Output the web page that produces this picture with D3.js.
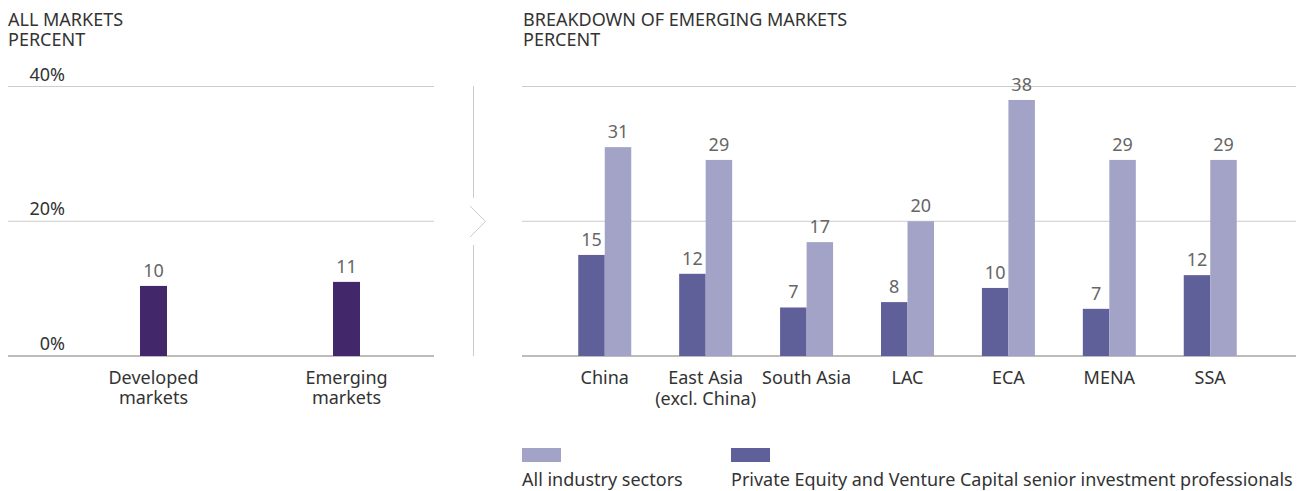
<!DOCTYPE html>
<html><head><meta charset="utf-8">
<script src="https://cdn.jsdelivr.net/npm/d3@7"></script>
<style>
html,body{margin:0;padding:0;background:#fff;}
svg text{font-family:"Noto Sans","Open Sans",sans-serif;}
</style></head>
<body><svg id="c" width="1306" height="491"></svg>
<script>
// ---- data ----
const leftCategories = [["Developed","markets"],["Emerging","markets"]];
const leftValues = [10.4, 11.0];
const leftLabels = ["10","11"];
const rightCategories = [["China"],["East Asia","(excl. China)"],["South Asia"],["LAC"],["ECA"],["MENA"],["SSA"]];
const peValues = [15, 12.2, 7.2, 8, 10.1, 7, 12];
const peLabels = ["15","12","7","8","10","7","12"];
const allValues = [31, 29.1, 16.9, 20, 38, 29.1, 29.1];
const allLabels = ["31","29","17","20","38","29","29"];
const yTicks = [0, 20, 40];
const yTickLabels = ["0%","20%","40%"];
const seriesNames = ["All industry sectors","Private Equity and Venture Capital senior investment professionals"];

const svg = d3.select("#c");
const FS = 18;
const y = d3.scaleLinear().domain([0, 40]).range([356, 86.5]);
const gridColor = "#cccccc", baseColor = "#a6a6a6";
const textDark = "#333333", textGray = "#666666";
const cLeft = "#42276a", cPE = "#5f5f99", cAll = "#a3a3c8";

// multi-line text as one <text> with tspans
function multiText(g, x, y0, lines, lh, anchor){
  const t = g.append("text").attr("x",x).attr("y",y0).attr("font-size",FS)
    .attr("fill",textDark).attr("text-anchor",anchor||"start");
  lines.forEach((s,i)=>t.append("tspan").attr("x",x).attr("dy",i===0?0:lh).text(s));
  return t;
}
multiText(svg, 8, 26, ["ALL MARKETS","PERCENT"], 19.8);
multiText(svg, 523, 26, ["BREAKDOWN OF EMERGING MARKETS","PERCENT"], 19.8);

// ---- left panel ----
const gl = svg.append("g");
yTicks.forEach((t,i)=>{
  gl.append("line").attr("x1",8).attr("x2",434).attr("y1",y(t)).attr("y2",y(t))
    .attr("stroke", t===0?baseColor:gridColor).attr("stroke-width",t===0?1.5:1);
  gl.append("text").attr("x",65).attr("y",y(t)-6).attr("text-anchor","end")
    .attr("font-size",FS).attr("fill",textDark).text(yTickLabels[i]);
});
const xl = d3.scaleBand().domain(d3.range(leftValues.length)).range([57,443]);
const bwL = 27;
gl.selectAll("rect.b").data(leftValues).join("rect")
  .attr("x",(d,i)=>xl(i)+xl.bandwidth()/2-bwL/2).attr("width",bwL)
  .attr("y",d=>y(d)).attr("height",d=>y(0)-y(d)).attr("fill",cLeft);
gl.selectAll("text.v").data(leftValues).join("text")
  .attr("x",(d,i)=>xl(i)+xl.bandwidth()/2).attr("y",d=>y(d)-9)
  .attr("text-anchor","middle").attr("font-size",FS).attr("fill",textGray)
  .text((d,i)=>leftLabels[i]);
leftCategories.forEach((lines,i)=>{
  multiText(gl, xl(i)+xl.bandwidth()/2, 383.5, lines, 20.7, "middle");
});

// ---- divider ----
const dv = svg.append("g").attr("stroke","#cccccc").attr("fill","none").attr("stroke-width",1);
dv.append("line").attr("x1",473.5).attr("x2",473.5).attr("y1",86).attr("y2",198);
dv.append("path").attr("d","M470,206 L485.5,221.5 L470,237");
dv.append("line").attr("x1",473.5).attr("x2",473.5).attr("y1",245).attr("y2",356);

// ---- right panel ----
const gr = svg.append("g");
yTicks.forEach((t)=>{
  gr.append("line").attr("x1",522).attr("x2",1296).attr("y1",y(t)).attr("y2",y(t))
    .attr("stroke", t===0?baseColor:gridColor).attr("stroke-width",t===0?1.5:1);
});
const xr = d3.scaleBand().domain(d3.range(rightCategories.length)).range([522,1293]).paddingOuter(0.32);
const x1 = d3.scaleBand().domain([0,1]).range([0,53]);
const series = [{vals:peValues, labs:peLabels, color:cPE},{vals:allValues, labs:allLabels, color:cAll}];
series.forEach((s,k)=>{
  const cx = i => xr(i)+xr.bandwidth()/2-26.5+x1(k);
  gr.selectAll(null).data(s.vals).join("rect")
    .attr("x",(d,i)=>cx(i)).attr("width",x1.bandwidth())
    .attr("y",d=>y(d)).attr("height",d=>y(0)-y(d)).attr("fill",s.color);
  gr.selectAll(null).data(s.vals).join("text")
    .attr("x",(d,i)=>cx(i)+x1.bandwidth()/2).attr("y",d=>y(d)-9)
    .attr("text-anchor","middle").attr("font-size",FS).attr("fill",textGray)
    .text((d,i)=>s.labs[i]);
});
rightCategories.forEach((lines,i)=>{
  multiText(gr, xr(i)+xr.bandwidth()/2, 384, lines, 20.7, "middle");
});

// ---- legend ----
const lg = svg.append("g");
const legX = [522, 731];
const legColors = [cAll, cPE];
seriesNames.forEach((n,i)=>{
  lg.append("rect").attr("x",legX[i]).attr("y",448).attr("width",39).attr("height",14).attr("fill",legColors[i]);
  lg.append("text").attr("x",legX[i]).attr("y",486).attr("font-size",FS).attr("fill",textDark).text(n);
});
</script></body></html>
